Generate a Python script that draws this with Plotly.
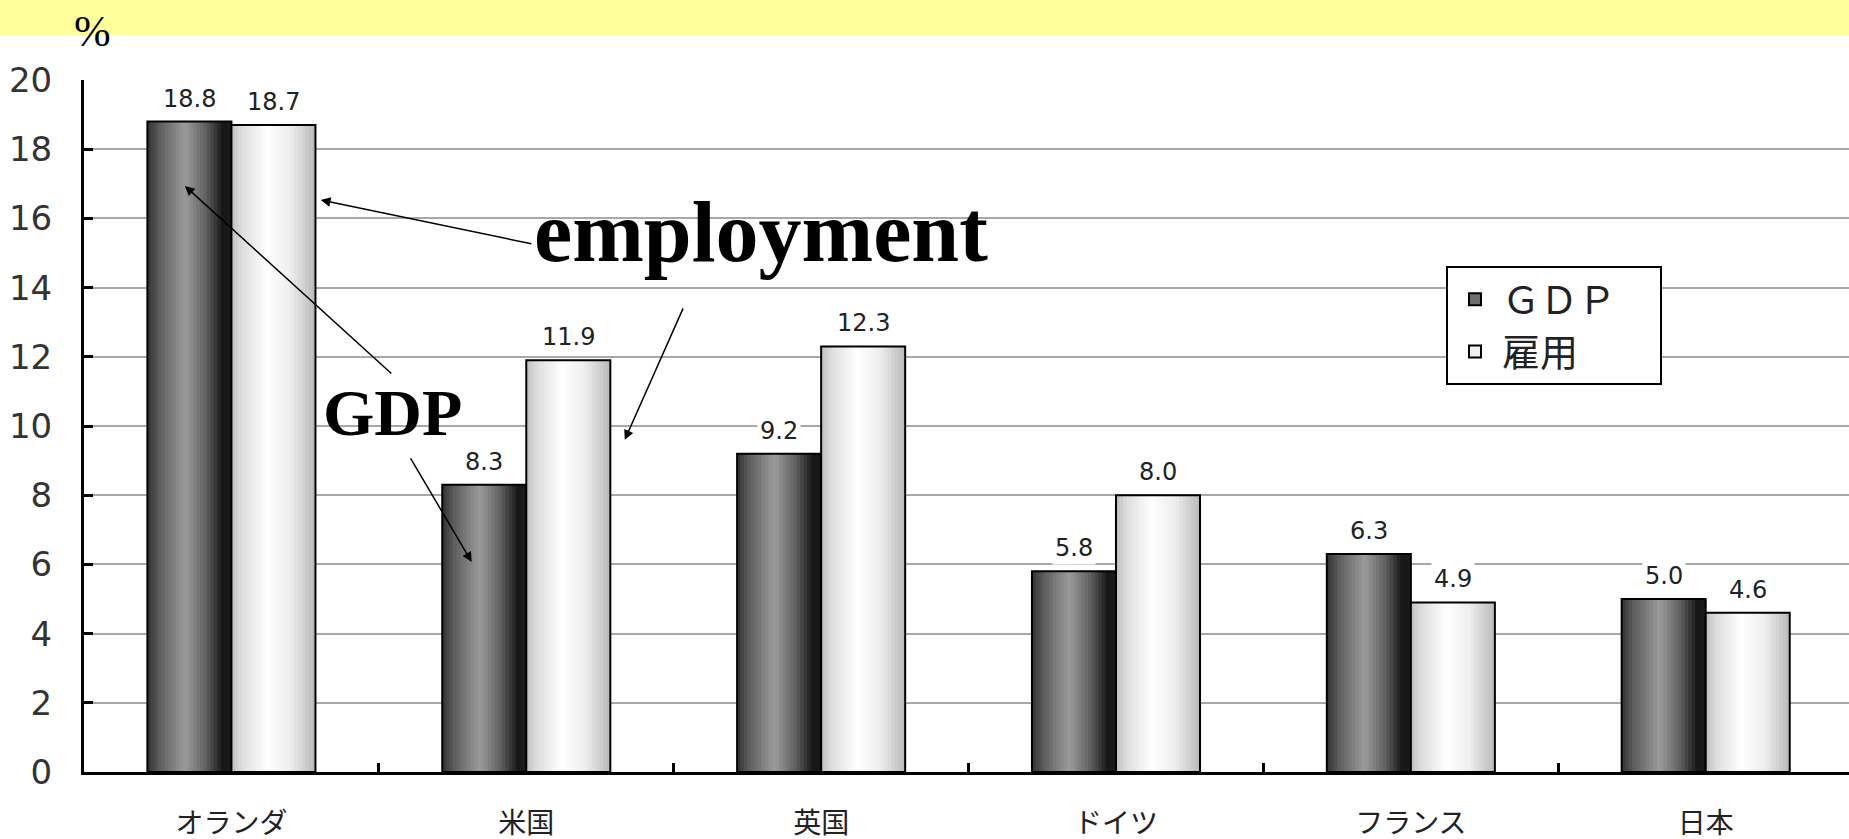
import plotly.graph_objects as go

categories = ["オランダ", "米国", "英国", "ドイツ", "フランス", "日本"]
gdp = [18.8, 8.3, 9.2, 5.8, 6.3, 5.0]
employment = [18.7, 11.9, 12.3, 8.0, 4.9, 4.6]
series_names = ["ＧＤＰ", "雇用"]
y_ticks = [0, 2, 4, 6, 8, 10, 12, 14, 16, 18, 20]

BAR_W = 0.285
N_STRIPS = 24
TICK_FONT = "DejaVu Sans, Noto Sans CJK JP"


def lerp_color(stops, t):
    for (t0, c0), (t1, c1) in zip(stops, stops[1:]):
        if t0 <= t <= t1:
            f = 0 if t1 == t0 else (t - t0) / (t1 - t0)
            v = round(c0 + (c1 - c0) * f)
            return f"rgb({v},{v},{v})"
    v = stops[-1][1]
    return f"rgb({v},{v},{v})"


gdp_stops = [(0, 50), (0.15, 95), (0.45, 155), (0.7, 95), (0.9, 22), (1.0, 28)]
emp_stops = [(0, 190), (0.12, 220), (0.42, 255), (0.7, 238), (1.0, 185)]

fig = go.Figure()

for vals, base_off, stops in [(gdp, -BAR_W, gdp_stops), (employment, 0.0, emp_stops)]:
    sw = BAR_W / N_STRIPS
    for i in range(N_STRIPS):
        t = (i + 0.5) / N_STRIPS
        w = sw * 1.6 if i < N_STRIPS - 1 else sw
        fig.add_trace(go.Bar(
            x=categories, y=vals, offset=base_off + i * sw, width=w,
            marker=dict(color=lerp_color(stops, t), line=dict(width=0)),
            showlegend=False, hoverinfo="skip"))
    fig.add_trace(go.Bar(
        x=categories, y=vals, offset=base_off, width=BAR_W,
        marker=dict(color="rgba(0,0,0,0)", line=dict(color="black", width=2)),
        showlegend=False))

# legend entries
fig.add_trace(go.Bar(x=[categories[0]], y=[None], name=series_names[0] + "\u3000",
                     marker=dict(color="#6e6e6e", line=dict(color="black", width=2))))
fig.add_trace(go.Bar(x=[categories[0]], y=[None], name=series_names[1],
                     marker=dict(color="#efefef", line=dict(color="black", width=2))))

annotations = []
for vals, ctr in [(gdp, -BAR_W / 2), (employment, BAR_W / 2)]:
    for i, v in enumerate(vals):
        annotations.append(dict(
            x=i + ctr, y=v, xref="x", yref="y", text=f"{v:.1f}",
            showarrow=False, yanchor="bottom", yshift=6, bgcolor="white",
            borderpad=2, font=dict(family=TICK_FONT, size=24, color="#222")))

PL, PR, PT, PB = 84, 1849, 80, 772


def px_to_paper(x, y):
    return (x - PL) / (PR - PL), (PB - y) / (PB - PT)


serif = "Liberation Serif, Times New Roman, serif"
for text, (cx, cy), size in [("<b>employment</b>", (761, 232), 86),
                             ("<b>GDP</b>", (392, 412), 66),
                             ("%", (92, 31), 44)]:
    px, py = px_to_paper(cx, cy)
    annotations.append(dict(x=px, y=py, xref="paper", yref="paper", text=text,
                            showarrow=False, xanchor="center", yanchor="middle",
                            font=dict(family=serif, size=size, color="black")))

arrows = [
    (0.303, 16.53, 212, 44),
    (-0.158, 16.94, 208, 189),
    (0.815, 6.07, -62, -105),
    (1.334, 9.6, 59, -133),
]
for x, y, ax, ay in arrows:
    annotations.append(dict(x=x, y=y, xref="x", yref="y", ax=ax, ay=ay,
                            showarrow=True, arrowhead=2, arrowsize=1.3,
                            arrowwidth=1.5, arrowcolor="black", text=""))

lx, ly = px_to_paper(1446, 266)
fig.update_layout(
    width=1849, height=839,
    margin=dict(l=PL, r=0, t=PT, b=839 - PB),
    barmode="overlay",
    plot_bgcolor="white", paper_bgcolor="white",
    annotations=annotations,
    shapes=[dict(type="rect", xref="paper", yref="paper",
                 x0=-0.06, x1=1.01, y0=(PB - 35) / (PB - PT), y1=(PB + 2) / (PB - PT),
                 fillcolor="#FFFF99", line=dict(width=0), layer="below")],
    legend=dict(x=lx, y=ly, xanchor="left", yanchor="top", bgcolor="white",
                bordercolor="black", borderwidth=2,
                font=dict(family="Noto Sans CJK JP", size=38, color="#222"),
                traceorder="normal", itemwidth=44),
    xaxis=dict(type="category", range=[-0.5, 5.486], showline=True, linecolor="black",
               linewidth=3, ticks="inside", tickson="boundaries", ticklen=9,
               tickwidth=3, tickcolor="black", showgrid=False, ticklabelstandoff=24,
               tickfont=dict(family=TICK_FONT, size=28, color="#222")),
    yaxis=dict(range=[0, 20], tickvals=y_ticks, showline=True, linecolor="black",
               linewidth=3, ticks="inside", ticklen=9, tickwidth=3, tickcolor="black",
               showgrid=True, gridcolor="#a8a8a8", gridwidth=2, zeroline=False,
               ticklabelstandoff=22,
               tickfont=dict(family=TICK_FONT, size=34, color="#333")),
)

fig.write_html("out.html", config={"displayModeBar": False},
               post_script="document.body.style.margin='0';")
